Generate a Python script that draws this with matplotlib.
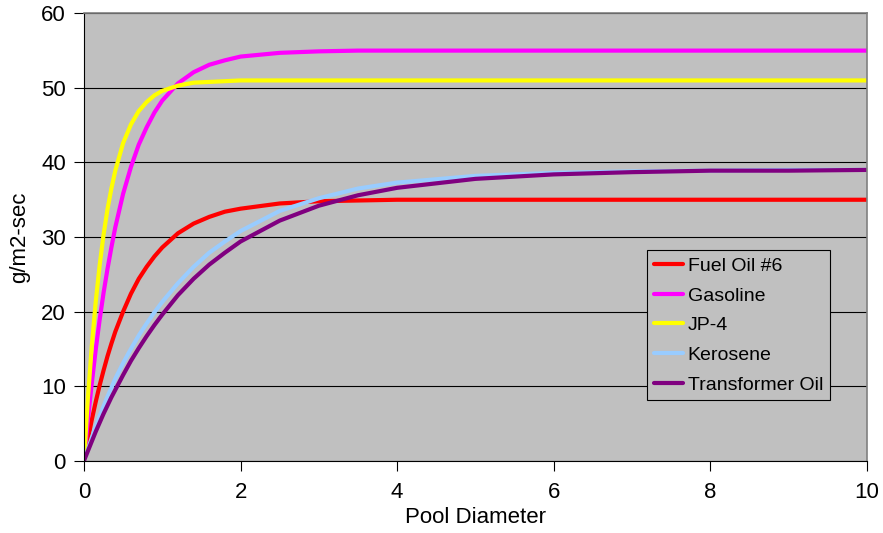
import matplotlib
matplotlib.use("Agg")
import matplotlib.pyplot as plt

plt.rcParams['font.family'] = ['Liberation Sans', 'DejaVu Sans']

# pool diameter (m)
diam = [0, 0.05, 0.1, 0.15, 0.2, 0.25, 0.3, 0.35, 0.4, 0.5, 0.6, 0.7, 0.8, 0.9,
        1.0, 1.2, 1.4, 1.6, 1.8, 2.0, 2.5, 3.0, 3.5, 4.0, 5.0, 6.0, 7.0, 8.0, 9.0, 10.0]

# burning rate, g/m2-sec
fuel_oil = [0, 2.9, 5.5, 7.9, 10.1, 12.1, 14.0, 15.7, 17.3, 20.0, 22.4, 24.4, 26.0, 27.4,
            28.6, 30.5, 31.8, 32.7, 33.4, 33.8, 34.5, 34.8, 34.9, 35.0, 35.0, 35.0, 35.0,
            35.0, 35.0, 35.0]
gasoline = [0, 5.5, 10.4, 14.9, 18.9, 22.5, 25.7, 28.6, 31.3, 35.8, 39.4, 42.4, 44.7, 46.7,
            48.3, 50.6, 52.1, 53.1, 53.7, 54.2, 54.7, 54.9, 55.0, 55.0, 55.0, 55.0, 55.0,
            55.0, 55.0, 55.0]
jp4 = [0, 8.4, 15.4, 21.3, 26.2, 30.3, 33.7, 36.5, 38.9, 42.6, 45.1, 46.9, 48.1, 49.0,
       49.6, 50.3, 50.7, 50.8, 50.9, 51.0, 51.0, 51.0, 51.0, 51.0, 51.0, 51.0, 51.0,
       51.0, 51.0, 51.0]
kerosene = [0, 1.5, 3.1, 4.6, 6.0, 7.3, 8.6, 9.8, 11.0, 13.1, 15.0, 16.8, 18.4, 19.9,
            21.3, 23.8, 26.0, 27.9, 29.4, 30.8, 33.5, 35.2, 36.5, 37.3, 38.2, 38.6, 38.8,
            38.9, 39.0, 39.0]
transformer = [0, 1.3, 2.6, 3.9, 5.1, 6.3, 7.4, 8.5, 9.5, 11.5, 13.4, 15.1, 16.7, 18.2,
               19.6, 22.2, 24.4, 26.3, 27.9, 29.4, 32.2, 34.2, 35.6, 36.6, 37.8, 38.4, 38.7,
               38.9, 38.9, 39.0]

series = [
    ("Fuel Oil #6", fuel_oil, "#FF0000"),
    ("Gasoline", gasoline, "#FF00FF"),
    ("JP-4", jp4, "#FFFF00"),
    ("Kerosene", kerosene, "#99CCFF"),
    ("Transformer Oil", transformer, "#800080"),
]

fig = plt.figure(figsize=(8.83, 5.33), dpi=100)
ax = fig.add_axes([0.0951, 0.1356, 0.8867, 0.8394])
ax.set_facecolor("#C0C0C0")

for name, vals, col in series:
    ax.plot(diam, vals, color=col, lw=3, label=name, solid_capstyle="round")

ax.set_xlim(0, 10)
ax.set_ylim(0, 60)
ax.set_xticks([0, 2, 4, 6, 8, 10])
ax.set_yticks([0, 10, 20, 30, 40, 50, 60])
ax.yaxis.grid(True, color="black", lw=0.8)
ax.set_axisbelow(True)
ax.tick_params(labelsize=16, length=7, width=0.8, direction="out")
ax.tick_params(axis="y", pad=6)
ax.tick_params(axis="x", pad=8)

for side in ["top", "right"]:
    ax.spines[side].set_color("#808080")
    ax.spines[side].set_linewidth(1.2)
for side in ["left", "bottom"]:
    ax.spines[side].set_color("black")
    ax.spines[side].set_linewidth(0.8)

ax.set_xlabel("Pool Diameter", fontsize=16, labelpad=3)
ax.set_ylabel("g/m2-sec", fontsize=16, labelpad=8)

leg = ax.legend(loc="upper left", bbox_to_anchor=(0.719, 0.47), borderaxespad=0,
                fontsize=14, frameon=True, fancybox=False, handlelength=1.5,
                handletextpad=0.25, labelspacing=0.62, borderpad=0.35)
leg.get_frame().set_facecolor("#C0C0C0")
leg.get_frame().set_edgecolor("black")
leg.get_frame().set_linewidth(0.8)
leg.get_frame().set_alpha(1)

fig.savefig("out.png", dpi=100)
